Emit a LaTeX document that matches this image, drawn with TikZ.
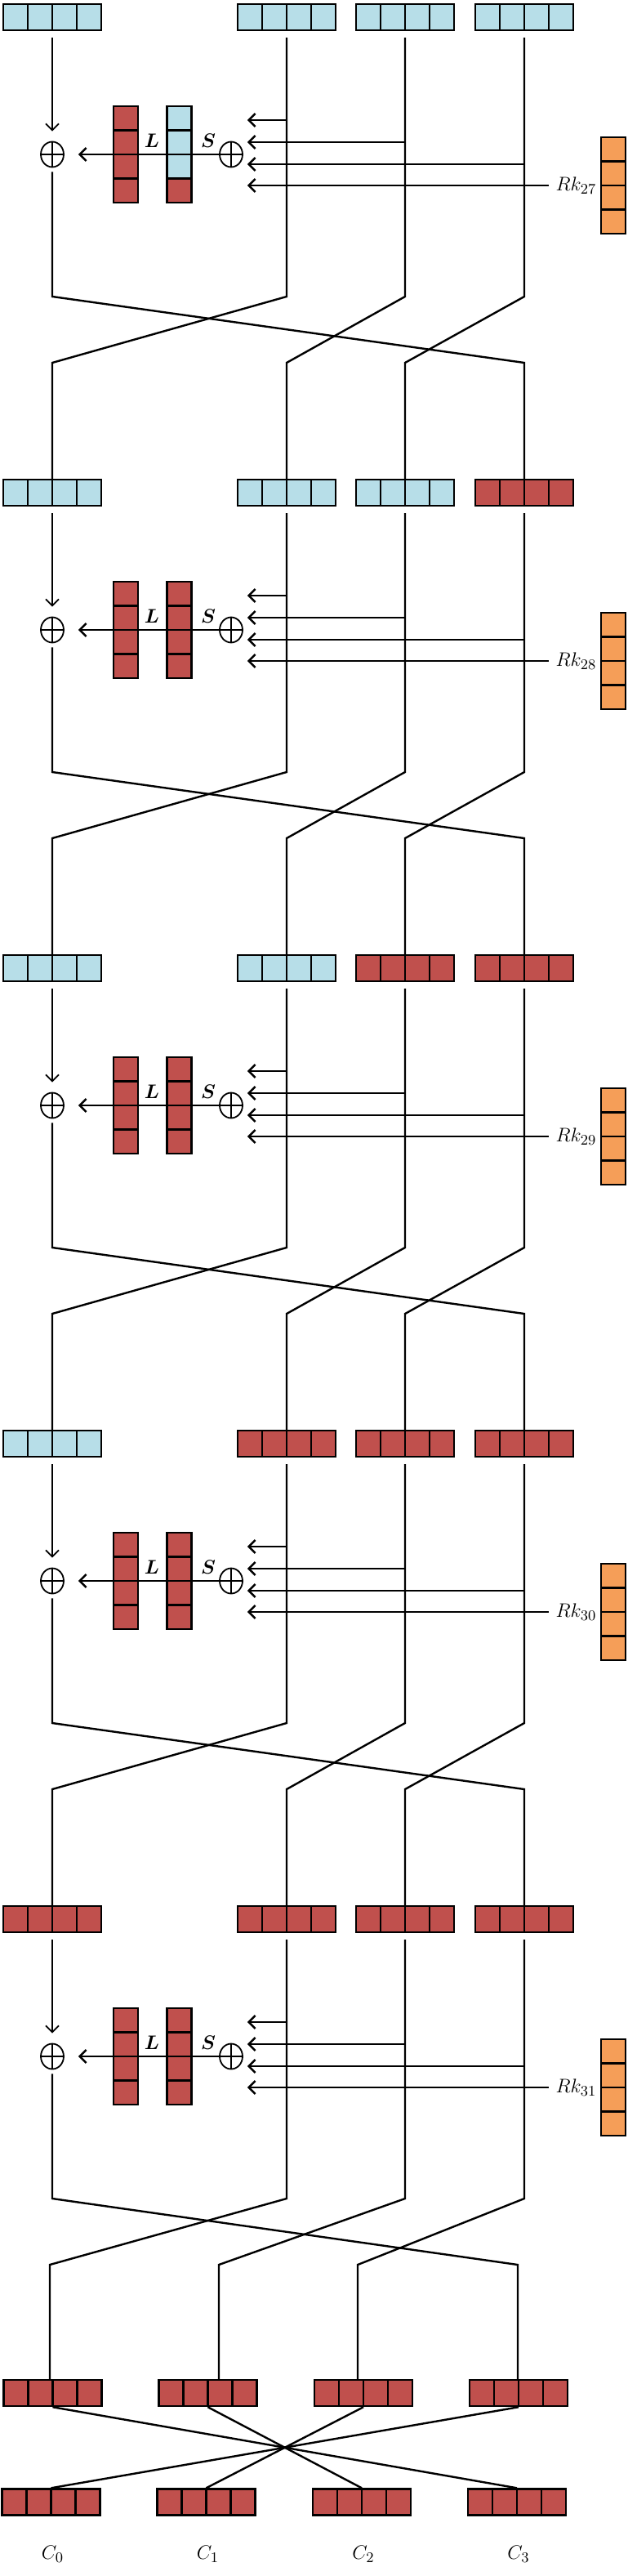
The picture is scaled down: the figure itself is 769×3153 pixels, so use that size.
\documentclass[tikz,border=0pt]{standalone}
\usetikzlibrary{arrows.meta,shapes.geometric,positioning}

\definecolor{lb}{RGB}{183,222,232}
\definecolor{rd}{RGB}{192,80,77}
\definecolor{og}{RGB}{245,158,88}

\tikzset{
  word/.style={draw, line width=1.2pt, minimum width=60pt, minimum height=16pt, inner sep=0pt,
    path picture={\foreach \i in {1,2,3}
      \draw[line width=1.2pt] ([xshift=\i*15pt]path picture bounding box.south west) -- ([xshift=\i*15pt]path picture bounding box.north west);}},
  col/.style={draw, line width=1.2pt, minimum width=15pt, minimum height=59pt, inner sep=0pt,
    path picture={\foreach \i in {1,2,3}
      \draw[line width=1.2pt] ([yshift=\i*14.75pt]path picture bounding box.south west) -- ([yshift=\i*14.75pt]path picture bounding box.south east);}},
  scol/.style={col, path picture={\fill[rd] (path picture bounding box.south west) rectangle ([yshift=14.75pt]path picture bounding box.south east);
    \foreach \i in {1,2,3}
      \draw[line width=1.2pt] ([yshift=\i*14.75pt]path picture bounding box.south west) -- ([yshift=\i*14.75pt]path picture bounding box.south east);}},
  xor/.style={ellipse, draw, line width=0.9pt, minimum width=14pt, minimum height=15.5pt, inner sep=0pt,
    path picture={\draw[line width=0.9pt] (path picture bounding box.north) -- (path picture bounding box.south)
      (path picture bounding box.west) -- (path picture bounding box.east);}},
  lbl/.style={font=\fontsize{12.5}{15}\selectfont, inner sep=1pt},
  blbl/.style={font=\fontsize{13}{15}\selectfont\boldmath, inner sep=1pt},
  wire/.style={line width=1.2pt},
  arr/.style={line width=1.2pt, -{Straight Barb[length=4pt,width=8pt]}},
}

\begin{document}
\begin{tikzpicture}[x=0.5pt, y=-0.5pt]
  \useasboundingbox (0,0) rectangle (769,3153);
  % rounds 27 to 31
  \foreach \r/\ca/\cb/\cc/\cd/\cs/\kn in {0/lb/lb/lb/lb/lb/27, 1/lb/lb/lb/rd/rd/28, 2/lb/lb/rd/rd/rd/29, 3/lb/rd/rd/rd/rd/30, 4/rd/rd/rd/rd/rd/31}{
    \begin{scope}[shift={(0,\r*582)}]
      \node[word, fill=\ca] (w\r0) at (64,21) {};
      \node[word, fill=\cb] (w\r1) at (351,21) {};
      \node[word, fill=\cc] (w\r2) at (496,21) {};
      \node[word, fill=\cd] (w\r3) at (642,21) {};
      \foreach \j in {0,...,3}
        \coordinate (i\r\j) at (w\r\j.north);
      \node[xor] (xl\r) at (64,189) {};
      \node[xor] (xr\r) at (283,189) {};
      \node[col, fill=rd] (L\r) at (154,189) {};
      \node[scol, fill=\cs] (S\r) at (219.5,189) {};
      \node[blbl] (l\r) at (186,172) {$L$};
      \node[blbl] (s\r) at (255,172) {$S$};
      \draw[arr, shorten >=8.5pt] (xr\r) -- (xl\r);
      \draw[arr, line width=0.9pt, shorten <=4pt, shorten >=6pt] (w\r0) -- (xl\r);
      \coordinate (t\r) at ([xshift=2.5pt]xr\r.east);
      \draw[arr] (w\r1 |- 0,147) -- (t\r |- 0,147);
      \draw[arr] (w\r2 |- 0,174) -- (t\r |- 0,174);
      \draw[arr] (w\r3 |- 0,201) -- (t\r |- 0,201);
      \node[col, fill=og] (k\r) at (751,227) {};
      \node[lbl, inner xsep=4pt, left=-2pt of k\r] (rk\r) {$Rk_{\kn}$};
      \draw[arr] (rk\r) -- (t\r |- rk\r);
    \end{scope}
  }
  % output words
  \foreach \j/\x/\y in {0/64.5/61, 1/254.5/268, 2/445/438, 3/635/634}{
    \node[word, fill=rd] (f\j) at (\x,2929) {};
    \coordinate (i5\j) at (f\j.north -| \y,0);
    \node[word, fill=rd] (g\j) at (\x-2,3062.5) {};
    \node[lbl] (c\j) at (\x,3126) {$C_{\j}$};
  }
  % wires between rounds
  \foreach \r [evaluate=\r as \n using int(\r+1)] in {0,...,4}{
    \begin{scope}[shift={(0,\r*582)}]
      \draw[wire, shorten <=2.5pt] (xl\r.south) -- (xl\r |- 0,363) -- (i\n3 |- 0,444) -- (i\n3);
      \draw[wire, shorten <=4pt] (w\r1.south) -- (w\r1 |- 0,363) -- (i\n0 |- 0,444) -- (i\n0);
      \draw[wire, shorten <=4pt] (w\r2.south) -- (w\r2 |- 0,363) -- (i\n1 |- 0,444) -- (i\n1);
      \draw[wire, shorten <=4pt] (w\r3.south) -- (w\r3 |- 0,363) -- (i\n2 |- 0,444) -- (i\n2);
    \end{scope}
  }
  \foreach \j [evaluate=\j as \m using int(3-\j)] in {0,...,3}
    \draw[wire] (f\j.south) -- (g\m.north);
\end{tikzpicture}
\end{document}
